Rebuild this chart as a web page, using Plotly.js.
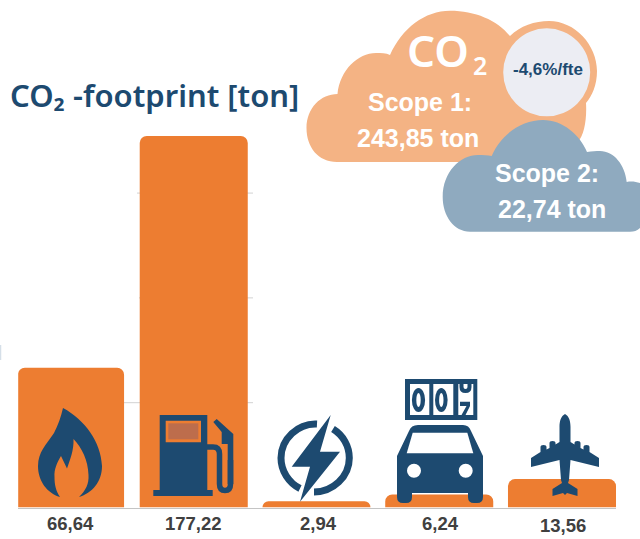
<!DOCTYPE html>
<html>
<head>
<meta charset="utf-8">
<script src="https://cdn.plot.ly/plotly-3.0.1.min.js"></script>
<style>html,body{margin:0;padding:0;background:#fff;overflow:hidden}#chart{width:640px;height:539px}</style>
</head>
<body>
<div id="chart"></div>
<script>
var categories = ['Aardgas', 'Diesel', 'Elektriciteit', 'Privéwagens', 'Vliegtuig'];
var co2Values = [66.64, 177.22, 2.94, 6.24, 13.56];
var valueLabels = ['66,64', '177,22', '2,94', '6,24', '13,56'];
var gridValues = [50, 100, 150];

var ORANGE = '#ed7d31', NAVY = '#1d4a70', PEACH = '#f4b384', BLUE = '#8faabf';
var W = 640, H = 539;

function px(path, fill, extra) {
  var s = {type: 'path', xref: 'x2', yref: 'y2', path: path, fillcolor: fill, line: {width: 0}, layer: 'above'};
  if (extra) for (var k in extra) s[k] = extra[k];
  return s;
}
function stroke(path, color, w) {
  return {type: 'path', xref: 'x2', yref: 'y2', path: path, fillcolor: 'rgba(0,0,0,0)', line: {color: color, width: w}, layer: 'above'};
}
function oval(cx, cy, rx, ry, fill) {
  return {type: 'circle', xref: 'x2', yref: 'y2', x0: cx - rx, x1: cx + rx, y0: cy - ry, y1: cy + ry, fillcolor: fill, line: {width: 0}, layer: 'above'};
}
function box(x0, y0, x1, y1, fill) {
  return {type: 'rect', xref: 'x2', yref: 'y2', x0: x0, x1: x1, y0: y0, y1: y1, fillcolor: fill, line: {width: 0}, layer: 'above'};
}
function grid(v, x0, x1) {
  return {type: 'line', xref: 'x2', yref: 'y', x0: x0, x1: x1, y0: v, y1: v, line: {color: '#d2d2d2', width: 1}, layer: 'below'};
}

var shapes = [
  grid(gridValues[0], 124, 253), grid(gridValues[1], 139, 253), grid(gridValues[2], 137, 253),
  stroke('M0.5,345 V360', '#d5dfe8', 1.5),

  // clouds
  px('M337,162 C318,162 306.5,147 306.5,128 C306.5,108 321,94 337.5,94 C340,70 358,53 376,53 C381,53 386,53 390,55 C402,28 425,10.7 450,10.7 C475,10.7 497,20 510,36 C520,26 535,21 549,21 C575,21 597,45 597,71 C597,85 592,96 586,103 C587,120 584,135 578,142 L560,162 Z', PEACH),
  oval(546.7, 72.3, 43.5, 44, '#ecedf3'),
  px('M470,231.7 C454,231.7 442.7,216 442.7,197 C442.7,172 460,155 478,155 C483,155 488,155 491.7,156 C501,134 522,120 543,120 C563,120 580,135 587,152 C592,151 596,151 600,151 C614,151 625,165 626.7,182 C632,181 636,182 640,183 V228 C637,231 634,231.7 630,231.7 Z', BLUE),

  // flame
  px('M63,408 C85,420 101,442 102,466 C102,482 92,493 79,497 C86,490 89,484 88.5,475 C88,460 82,448 73.5,439 C74,450 70,460 67,468.5 L61,456 C57,463 54,469 54.5,477 C54.5,485 56,491 60,497 C47,493 38,481 38,466 C38,452 46,445 54,433 C58,425 61,417 63,408 Z', NAVY),

  // fuel pump
  box(159.7, 415, 207.3, 490, NAVY),
  box(153.3, 490, 212.7, 496, NAVY),
  box(165.7, 420.7, 201, 442.3, ORANGE),
  box(168.3, 423.3, 198.3, 439.3, '#bd6d4c'),
  stroke('M207,447 H213 Q219.5,447 219.5,454 V484 Q219.5,490.5 225,490.5 Q230.5,490.5 230.5,484 V460', NAVY, 5.5),
  px('M213.3,422 L216.7,419 L233.3,434 V484 H227.7 V444 H221.7 V432 Z', NAVY),

  // lightning ring
  stroke('M317,424 C298,423 281,439 281,458 C281,470.8 288.5,482.7 300,488.5', NAVY, 7),
  stroke('M333,429 C343.1,435.2 349.3,446.15 349.3,458 C349.3,476.8 332.8,492 314,492', NAVY, 7),
  px('M330.7,415 L291.7,466.7 H310 L300,501.7 L340,451.7 H320 Z', NAVY),

  // odometer
  box(405, 379, 477.3, 420, NAVY),
  box(410, 384, 429.3, 415, '#ffffff'),
  box(433.3, 384, 453.3, 415, '#ffffff'),
  box(458.3, 384, 473.3, 415, '#ffffff'),
  oval(418.5, 400, 6.6, 12, NAVY), oval(418.5, 400, 2.2, 7, '#ffffff'),
  oval(441.3, 400, 6.3, 12, NAVY), oval(441.3, 400, 2.2, 7, '#ffffff'),
  stroke('M461.5,384 V387 Q461.5,391 465.5,391 Q469.5,391 469.5,387 V384', NAVY, 4),
  px('M460,401.7 H470 V406 L465.5,415 H461.5 L466.5,406 H460 Z', NAVY),

  // car
  px('M418,425 H463 Q469,425 471,431 L483,456 V497 Q483,503 477,503 H474 Q468,503 468,497 V493 H412 V497 Q412,503 406,503 H403 Q397,503 397,497 V456 L409,431 Q411,425 418,425 Z', NAVY),
  px('M412.7,432.7 H467.3 L473.3,453.3 H406.7 Z', '#ffffff'),
  oval(414, 470.7, 7, 7, '#ffffff'),
  oval(465.7, 470.7, 7, 7, '#ffffff'),

  // plane
  px('M565,414 C561,416 559.5,421 559.5,427 V442 L555.5,444.5 V443 Q555.5,441 552.5,441 Q549.5,441 549.5,443 V448 L546.5,449.5 V447 Q546.5,445 543.5,445 Q540.5,445 540.5,447 V452 L531,458 V467 L559.5,460 L561,480 L562,483 L552.5,489 V496 L563,493 L565,495 L567,493 L577.5,496 V489 L568,483 L569,480 L570.5,460 L599,467 V458 L589.5,452 V447 Q589.5,445 586.5,445 Q583.5,445 583.5,447 V449.5 L580.5,448 V443 Q580.5,441 577.5,441 Q574.5,441 574.5,443 V444.5 L570.5,442 V427 C570.5,421 569,416 565,414 Z', NAVY)
];

function note(text, x, y, size, color, family, weight) {
  return {text: text, xref: 'x2', yref: 'y2', x: x, y: y, xanchor: 'center', yanchor: 'middle', showarrow: false,
          font: {size: size, color: color, family: family, weight: weight || 400}};
}
var SANS = '"Liberation Sans", Arial, sans-serif';
var annotations = [
  note('CO', 437.5, 50, 44, '#ffffff', '"Noto Sans"', 600),
  note('2', 479.5, 65, 25, '#ffffff', '"Noto Sans"', 600),
  note('Scope 1:', 420, 102, 25, '#ffffff', SANS, 700),
  note('243,85 ton', 418, 138, 25, '#ffffff', SANS, 700),
  note('-4,6%/fte', 548, 69, 17, NAVY, SANS, 700),
  note('Scope 2:', 546.7, 173, 25, '#ffffff', SANS, 700),
  note('22,74 ton', 551.7, 209, 25, '#ffffff', SANS, 700)
];
var labelYs = [523.7, 523.7, 523.7, 523.7, 525];
var labelXs = [70, 193.5, 318, 440, 563];
valueLabels.forEach(function (t, i) {
  annotations.push(note(t, labelXs[i], labelYs[i], 18.5, '#404040', SANS, 700));
});

var data = [
  {type: 'bar', x: categories, y: co2Values, width: [0.865, 0.88, 0.88, 0.88, 0.88],
   marker: {color: ORANGE, line: {width: 0}}, hoverinfo: 'x+y', xaxis: 'x', yaxis: 'y', cliponaxis: false},
  {type: 'scatter', x: [0], y: [0], mode: 'none', xaxis: 'x2', yaxis: 'y2', hoverinfo: 'skip', showlegend: false}
];

var layout = {
  width: W, height: H,
  margin: {l: 0, r: 0, t: 0, b: 0, pad: 0},
  paper_bgcolor: '#ffffff', plot_bgcolor: 'rgba(0,0,0,0)',
  showlegend: false,
  barcornerradius: 7,
  title: {text: 'CO₂ -footprint [ton]', x: 10 / W, xanchor: 'left', xref: 'paper', y: 1 - 96 / H, yanchor: 'middle', yref: 'paper',
          font: {size: 31, color: NAVY, family: '"Noto Sans", sans-serif', weight: 600}},
  xaxis: {domain: [18.2 / W, 616 / W], type: 'category', categoryorder: 'array', categoryarray: categories,
          range: [-0.43, 4.44], showticklabels: false, ticks: '', showgrid: false, zeroline: false,
          showline: true, linecolor: '#c4c4c4', linewidth: 1.5, anchor: 'y', fixedrange: true},
  yaxis: {domain: [(H - 507.5) / H, (H - 130.2) / H], range: [0, 180], showticklabels: false, ticks: '',
          showgrid: false, zeroline: false, showline: false, anchor: 'x', fixedrange: true},
  xaxis2: {domain: [0, 1], range: [0, W], visible: false, anchor: 'y2', fixedrange: true},
  yaxis2: {domain: [0, 1], range: [H, 0], visible: false, anchor: 'x2', fixedrange: true},
  shapes: shapes,
  annotations: annotations
};

Plotly.newPlot('chart', data, layout, {displayModeBar: false, responsive: false, staticPlot: true});
</script>
</body>
</html>
